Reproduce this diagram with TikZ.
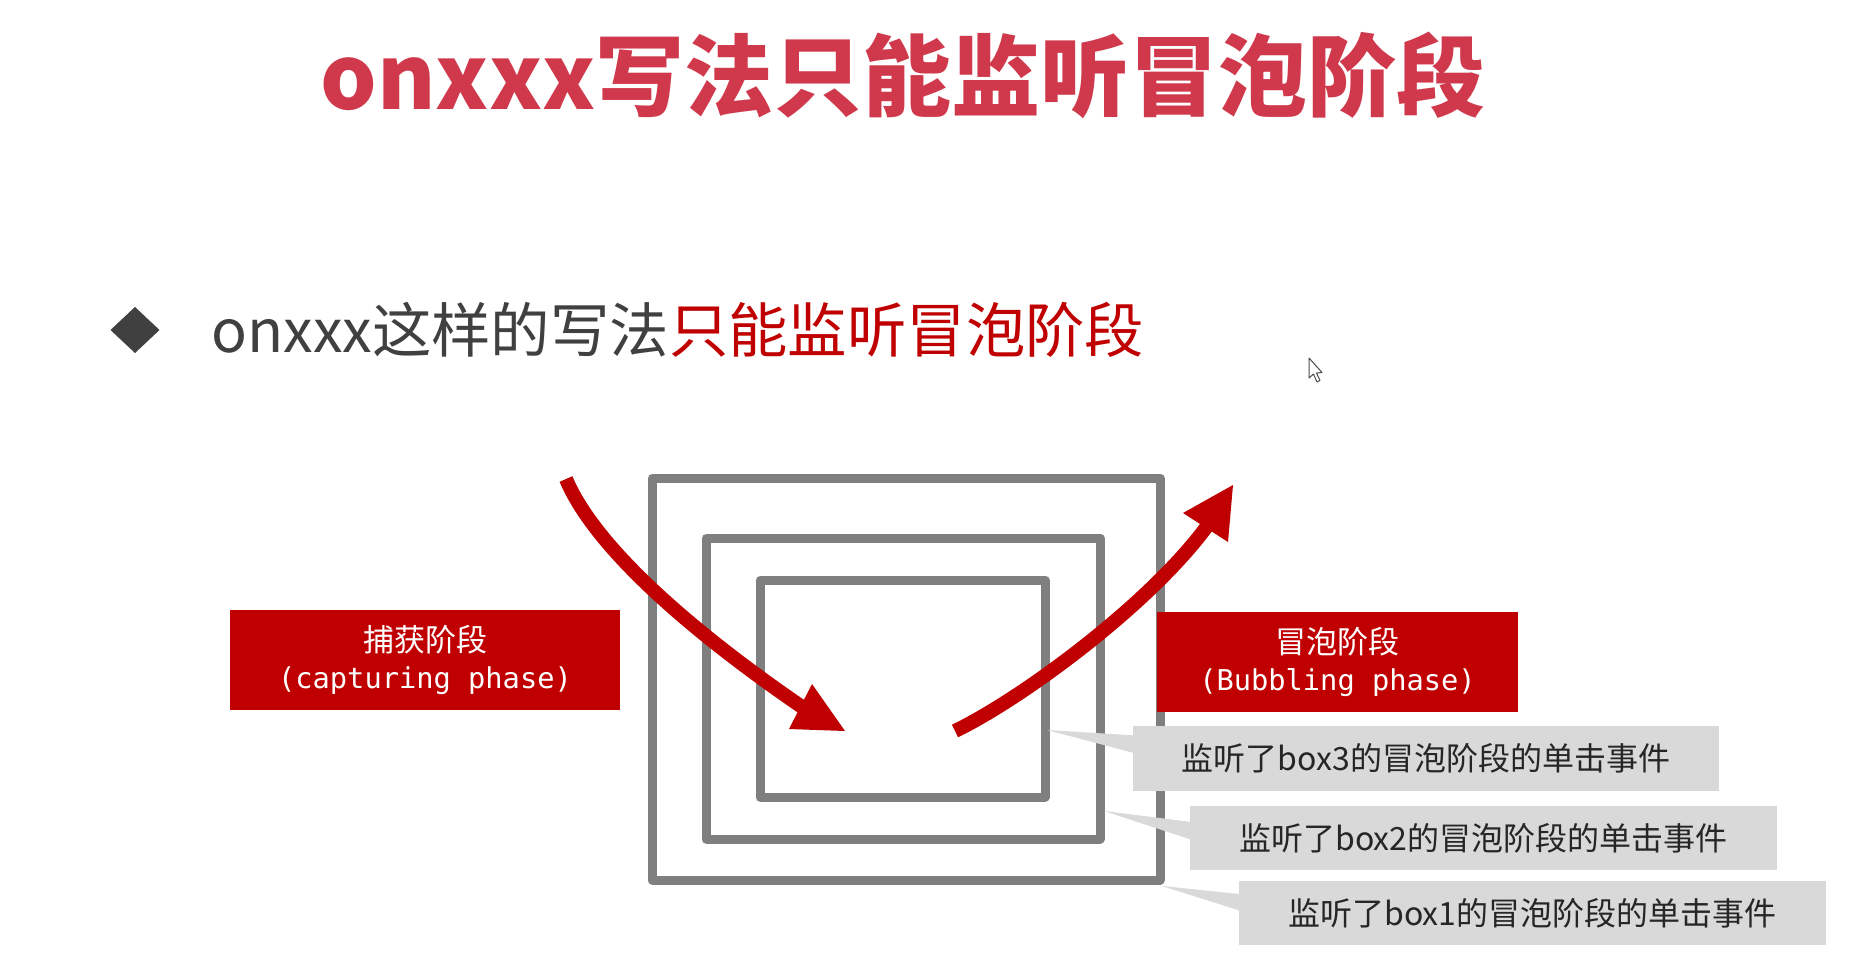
\documentclass[tikz,border=0pt]{standalone}
\usepackage{fontspec}
\usetikzlibrary{calc}
\setmainfont{Noto Sans CJK SC}
\newfontfamily\cjkfont{Noto Sans CJK SC}
\newfontfamily\monofont{DejaVu Sans Mono}
\definecolor{titlered}{RGB}{208,56,76}
\definecolor{darkred}{RGB}{192,0,0}
\definecolor{boxgray}{RGB}{127,127,127}
\definecolor{notegray}{RGB}{217,217,217}
\definecolor{textgray}{RGB}{64,64,64}
\definecolor{notetext}{RGB}{38,38,38}
\begin{document}
\begin{tikzpicture}[x=1pt,y=-1pt,
  frame/.style={draw=boxgray, line width=9pt, line join=round, inner sep=0pt, rectangle},
  phase/.style={fill=darkred, text=white, inner sep=0pt, align=center,
    font=\cjkfont\fontsize{31}{37}\selectfont},
  note/.style={fill=notegray, text=notetext, inner sep=0pt,
    font=\cjkfont\fontsize{32}{38}\selectfont},
  notetail/.style={fill=notegray},
  flow/.style={draw=darkred, line width=14pt},
  flowhead/.style={fill=darkred},
]
\fill[white] (0,0) rectangle (1857,967);
\useasboundingbox (0,0) rectangle (1857,967);

% heading and bullet line
\node[text=titlered, inner sep=0pt, font=\cjkfont\bfseries\fontsize{89}{100}\selectfont]
  (title) at (903,75) {onxxx写法只能监听冒泡阶段};
\coordinate (bullet) at (135,330);
\fill[textgray] (bullet) ++(-24.5,0) -- ++(24.5,-23) -- ++(24.5,23) -- ++(-24.5,23) -- cycle;
\node[anchor=west, inner sep=0pt, text=textgray, font=\cjkfont\fontsize{59.4}{70}\selectfont]
  (point) at (211,330) {onxxx这样的写法\textcolor{darkred}{只能监听冒泡阶段}};

% nested boxes
\node[frame, minimum width=508pt, minimum height=402pt] (outer) at (906,679) {};
\node[frame, minimum width=394pt, minimum height=301pt] (middle) at (903,688.5) {};
\node[frame, minimum width=285pt, minimum height=217pt] (inner) at (902.5,688.5) {};

% capturing flow
\coordinate (capS) at (566,479);
\coordinate (capE) at (805,709);
\draw[flow] (capS) .. controls (602,565) and (742,666) .. (capE);
\fill[flowhead] (845,731) -- (789,729) -- (812,684) -- cycle;

% bubbling flow
\coordinate (bubS) at (955,731);
\coordinate (bubE) at (1210,522);
\draw[flow] (bubS) .. controls (1025,697) and (1155,600) .. (bubE);
\fill[flowhead] (1233,485) -- (1183,513) -- (1228,542) -- cycle;

% phase labels
\node[phase, minimum width=390pt, minimum height=100pt] (cap) at (425,660)
  {捕获阶段\\{\monofont\fontsize{28.7}{37}\selectfont (capturing phase)}};
\node[phase, minimum width=361pt, minimum height=100pt] (bub) at (1337.5,662)
  {冒泡阶段\\{\monofont\fontsize{28.7}{37}\selectfont (Bubbling phase)}};

% callouts
\coordinate (tip3) at (1047,730);
\coordinate (tip2) at (1104,811);
\coordinate (tip1) at (1162,886);
\node[note, minimum width=586pt, minimum height=65pt] (n3) at (1426,758.5) {};
\node[note, minimum width=587pt, minimum height=64pt] (n2) at (1483.5,838) {};
\node[note, minimum width=587pt, minimum height=64pt] (n1) at (1532.5,913) {};
\fill[notetail] (tip3) -- ($(n3.north west)+(8,10)$) -- ($(n3.north west)+(8,29)$) -- cycle;
\fill[notetail] (tip2) -- ($(n2.north west)+(8,17)$) -- ($(n2.north west)+(8,36)$) -- cycle;
\fill[notetail] (tip1) -- ($(n1.north west)+(8,14)$) -- ($(n1.north west)+(8,32)$) -- cycle;
\node[note, fill=none] (l3) at (n3) {监听了box3的冒泡阶段的单击事件};
\node[note, fill=none] (l2) at (n2) {监听了box2的冒泡阶段的单击事件};
\node[note, fill=none] (l1) at (n1) {监听了box1的冒泡阶段的单击事件};

% mouse pointer
\filldraw[fill=white, draw=black!70, line width=1pt, line join=round]
  (1309,358) -- (1309,378) -- (1313.5,374) -- (1317,382) -- (1320,380.5)
  -- (1316.5,373) -- (1322,372.5) -- cycle;
\end{tikzpicture}
\end{document}
